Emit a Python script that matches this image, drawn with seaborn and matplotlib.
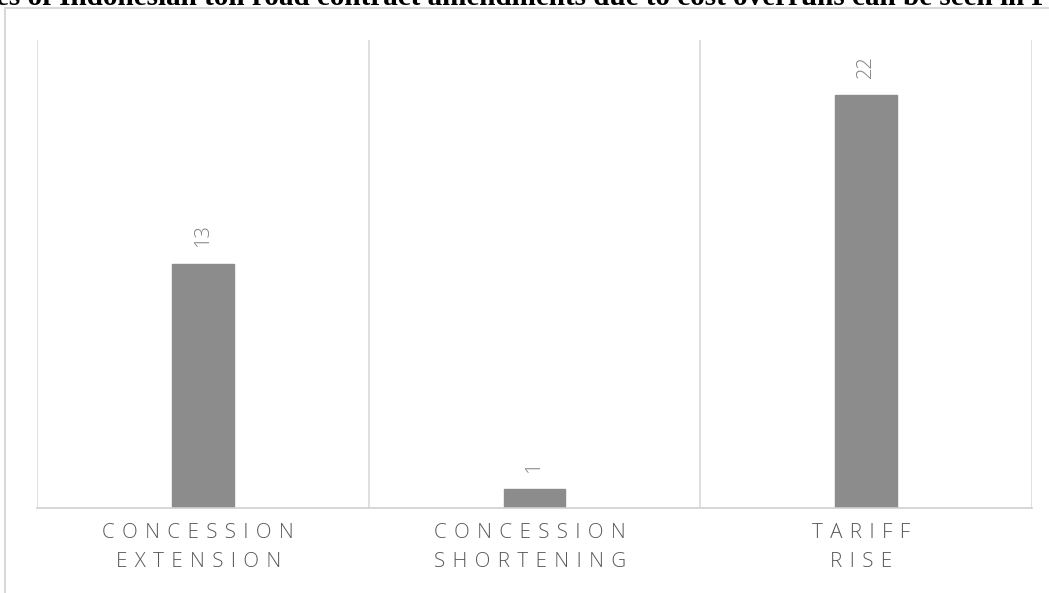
import matplotlib
matplotlib.use("Agg")
import matplotlib.pyplot as plt
import seaborn as sns
import pandas as pd
from matplotlib.patches import Rectangle

categories = ["CONCESSION\nEXTENSION", "CONCESSION\nSHORTENING", "TARIFF\nRISE"]
values = [13, 1, 22]
caption = "es of Indonesian toll road contract amendments due to cost overruns can be seen in F"

def spaced(s):
    return "\n".join(" \u200a".join(list(line)) + " \u200a\u200a" for line in s.split("\n"))

sns.set_theme(style="white")
plt.rcParams['font.family'] = ['Open Sans', 'DejaVu Sans']

df = pd.DataFrame({"cat": categories, "val": values})

fig = plt.figure(figsize=(10.49, 5.93), dpi=100)
ax = fig.add_axes([37/1049, 1 - 508/593, (1032 - 37)/1049, (508 - 40)/593])

sns.barplot(data=df, x="cat", y="val", color="#8c8c8c", width=0.185, ax=ax,
            saturation=1, edgecolor="#8c8c8c")

ax.set_xlim(-0.5, 2.5)
ax.set_ylim(0, 24.9)
ax.set_xlabel("")
ax.set_ylabel("")
ax.set_yticks([])
ax.set_xticks(range(len(categories)))
ax.set_xticklabels([spaced(c) for c in categories], color="#595959",
                   fontsize=14.8, linespacing=1.55, fontweight="light")
ax.tick_params(axis="x", length=0, pad=11)

for sp in ["top", "left", "right"]:
    ax.spines[sp].set_visible(False)
ax.spines["bottom"].set_color("#d0d0d0")
ax.spines["bottom"].set_linewidth(1.2)

for xb in [-0.5, 0.5, 1.5, 2.5]:
    ax.axvline(xb, color="#d9d9d9", lw=1.2, zorder=0)

for i, v in enumerate(values):
    ax.annotate(str(v), (i, v), xytext=(0, 12), textcoords="offset points",
                rotation=90, ha="center", va="bottom", color="#7f7f7f",
                fontsize=14.5, fontweight="light")

fig.patches.append(Rectangle((5/1049, -0.05), 1.2, 1 - 8/593 + 0.05,
                             transform=fig.transFigure, fill=False,
                             edgecolor="#d9d9d9", lw=1.5))

fig.text(-0.004, 1.0 - 5/593, caption, family=['Liberation Serif', 'DejaVu Serif'],
         fontweight="bold", fontsize=21, ha="left", va="baseline", color="black")

fig.savefig("out.png", dpi=100)
